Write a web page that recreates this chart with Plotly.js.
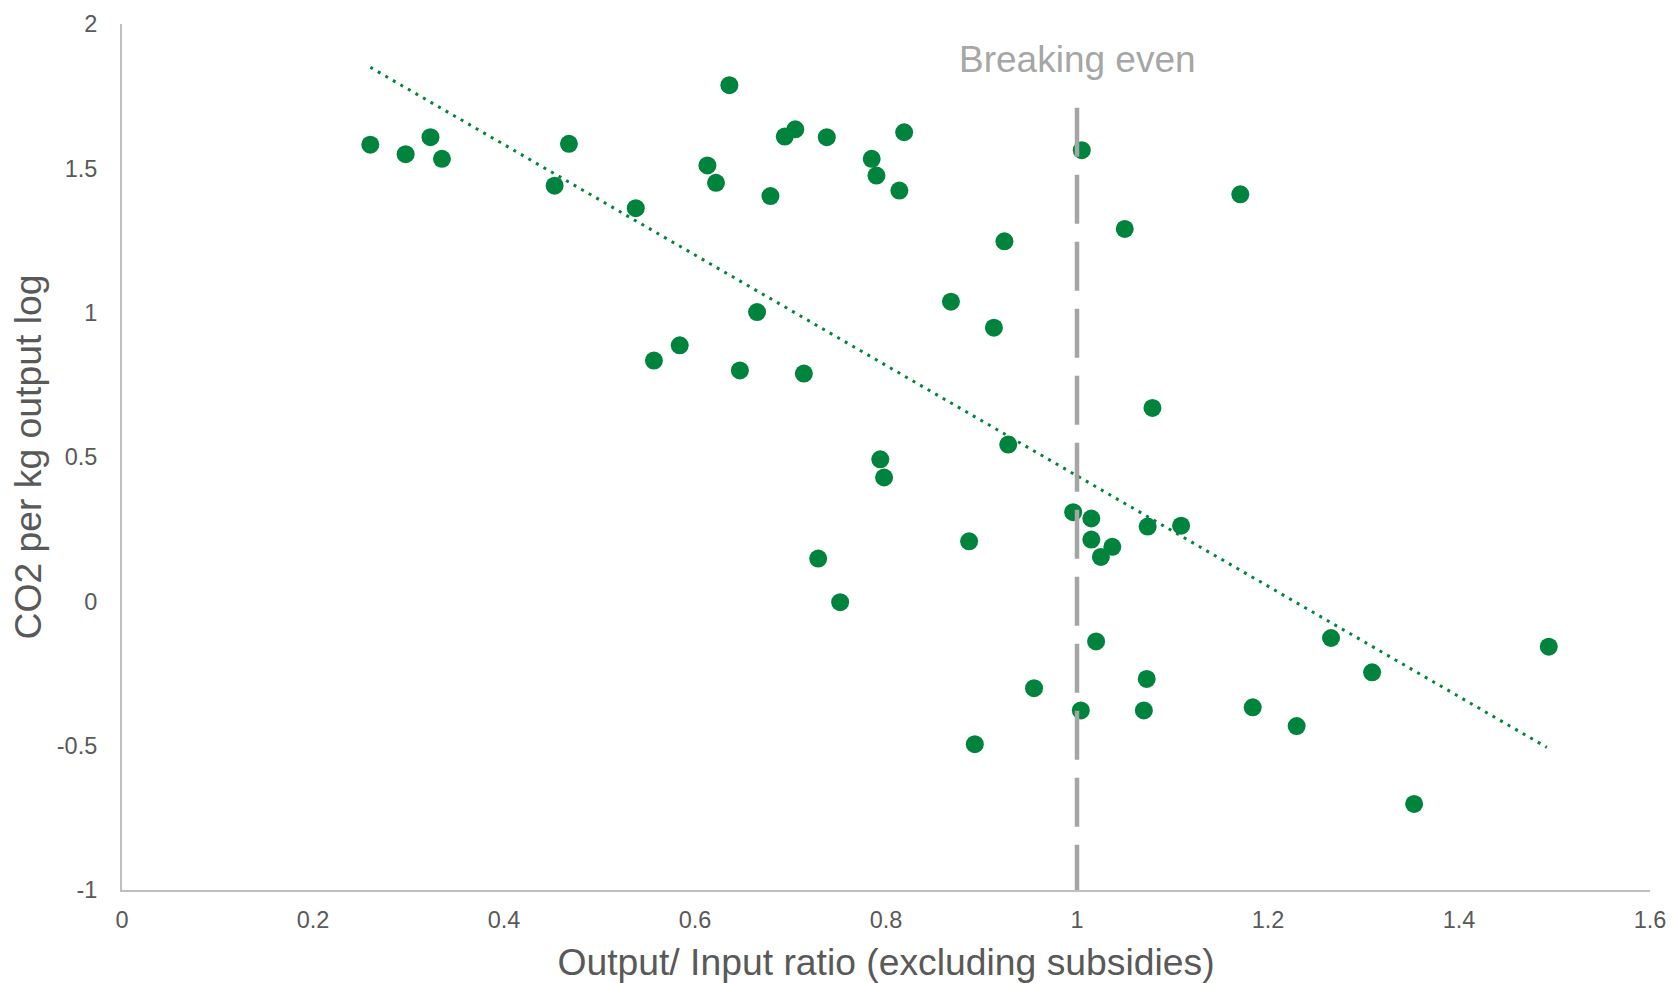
<!DOCTYPE html>
<html>
<head>
<meta charset="utf-8">
<script src="https://cdn.plot.ly/plotly-3.0.1.min.js"></script>
<style>
  html, body { margin: 0; padding: 0; background: #ffffff; }
  #chart { width: 1673px; height: 983px; }
</style>
</head>
<body>
<div id="chart"></div>
<script>
// Output/Input ratio (excluding subsidies)
const ratioX = [0.260, 0.297, 0.323, 0.335, 0.453, 0.468, 0.538, 0.557, 0.584, 0.613,
                0.622, 0.636, 0.647, 0.665, 0.679, 0.694, 0.705, 0.714, 0.738, 0.729,
                0.752, 0.785, 0.790, 0.814, 0.819, 0.794, 0.798, 0.868, 0.887, 0.893,
                0.913, 0.924, 0.928, 0.955, 0.996, 1.005, 1.004, 1.015, 1.015, 1.025,
                1.037, 1.020, 1.050, 1.074, 1.073, 1.070, 1.079, 1.109, 1.171, 1.184,
                1.230, 1.266, 1.309, 1.353, 1.494];
// CO2 per kg output (log)
const co2LogY = [1.582, 1.549, 1.608, 1.533, 1.440, 1.585, 1.362, 0.834, 0.887, 1.510,
                 1.450, 1.788, 0.800, 1.002, 1.404, 1.610, 1.635, 0.789, 1.608, 0.148,
                 -0.003, 1.533, 1.475, 1.423, 1.625, 0.492, 0.429, 1.038, 0.208, -0.495,
                 0.948, 1.247, 0.543, -0.301, 0.309, 1.563, -0.378, 0.287, 0.214, 0.154,
                 0.189, -0.139, 1.290, 0.259, -0.269, -0.378, 0.670, 0.262, 1.410, -0.367,
                 -0.432, -0.127, -0.246, -0.702, -0.157];
// Linear trendline end points
const trendX = [0.260, 1.492];
const trendY = [1.850, -0.506];
// Break-even reference line
const breakEvenX = [1, 1];
const breakEvenY = [1.71, -1];
const breakEvenLabel = 'Breaking even';
const breakEvenLabelY = 1.878;
// Axis ticks
const xTickVals = [0, 0.2, 0.4, 0.6, 0.8, 1, 1.2, 1.4, 1.6];
const xTickText = ['0', '0.2', '0.4', '0.6', '0.8', '1', '1.2', '1.4', '1.6'];
const yTickVals = [-1, -0.5, 0, 0.5, 1, 1.5, 2];
const yTickText = ['-1', '-0.5', '0', '0.5', '1', '1.5', '2'];

const green = '#00843D';
const fontFam = '"Liberation Sans", Arial, sans-serif';

const traces = [
  {
    type: 'scatter', mode: 'markers',
    x: ratioX, y: co2LogY,
    marker: { color: green, size: 18, line: { width: 0 } },
    hoverinfo: 'x+y', showlegend: false
  },
  {
    type: 'scatter', mode: 'lines',
    x: trendX, y: trendY,
    line: { color: green, width: 3, dash: '3px,5.7px' },
    hoverinfo: 'skip', showlegend: false
  },
  {
    type: 'scatter', mode: 'lines',
    x: breakEvenX, y: breakEvenY,
    line: { color: '#A5A5A5', width: 4.5, dash: '49px,18px' },
    hoverinfo: 'skip', showlegend: false
  }
];

const layout = {
  width: 1673, height: 983,
  margin: { l: 121.6, r: 23.4, t: 23.5, b: 93 },
  paper_bgcolor: '#ffffff', plot_bgcolor: '#ffffff',
  font: { family: fontFam, color: '#595959' },
  showlegend: false,
  xaxis: {
    range: [0, 1.6], tickvals: xTickVals, ticktext: xTickText,
    showgrid: false, zeroline: false,
    showline: true, linecolor: '#BFBFBF', linewidth: 2,
    ticks: '', ticklabelstandoff: 8,
    tickfont: { size: 23.5, color: '#595959', family: fontFam },
    title: { text: 'Output/ Input ratio (excluding subsidies)', font: { size: 37.3, color: '#595959', family: fontFam }, standoff: 18 }
  },
  yaxis: {
    range: [-1, 2], tickvals: yTickVals, ticktext: yTickText,
    showgrid: false, zeroline: false,
    showline: true, linecolor: '#BFBFBF', linewidth: 2,
    ticks: '', ticklabelstandoff: 18,
    tickfont: { size: 23.5, color: '#595959', family: fontFam },
    title: { text: 'CO2 per kg output log', font: { size: 37.3, color: '#595959', family: fontFam }, standoff: 4 }
  },
  annotations: [
    {
      x: breakEvenX[0], y: breakEvenLabelY, xref: 'x', yref: 'y',
      text: breakEvenLabel, showarrow: false,
      xanchor: 'center', yanchor: 'middle',
      font: { size: 37, color: '#A6A6A6', family: fontFam }
    }
  ]
};

Plotly.newPlot('chart', traces, layout, { displayModeBar: false, staticPlot: true });
</script>
</body>
</html>
